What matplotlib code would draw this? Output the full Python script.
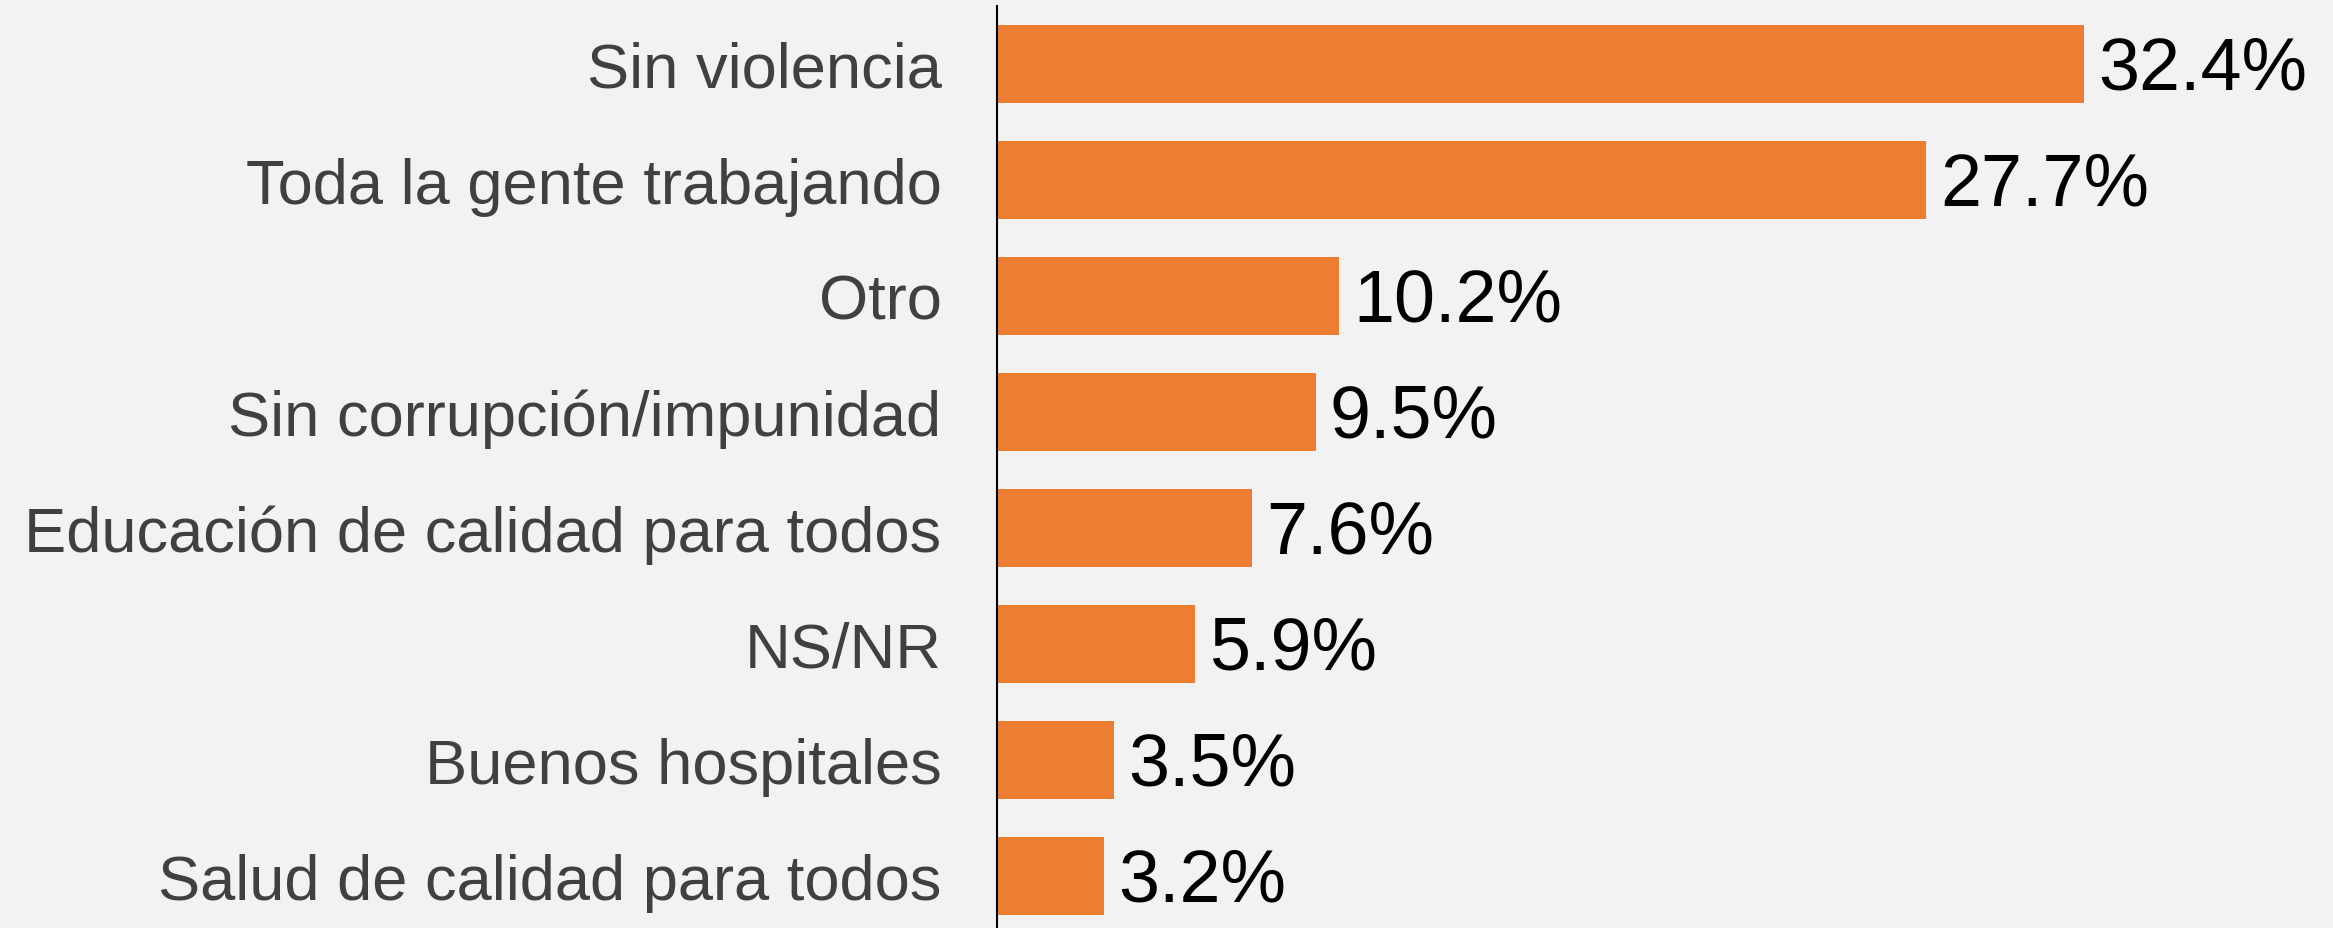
import numpy as np
from matplotlib import pyplot as plt

# =============================================================================
# DATA
# =============================================================================
categories = ['Sin violencia', 'Toda la gente trabajando', 'Otro',
              'Sin corrupción/impunidad', 'Educación de calidad para todos',
              'NS/NR', 'Buenos hospitales', 'Salud de calidad para todos']
values = [32.4, 27.7, 10.2, 9.5, 7.6, 5.9, 3.5, 3.2]

# =============================================================================
# PLOT
# =============================================================================
plt.rcParams['font.family'] = ['Liberation Sans', 'DejaVu Sans']
bg = '#f2f2f2'

fig = plt.figure(figsize=(23.33, 9.29), dpi=100, facecolor=bg)
W, H = 2333., 929.
x0, y_top, y_bot = 997., 7., 935.
ax = fig.add_axes([x0/W, 1 - y_bot/H, 1 - x0/W, (y_bot - y_top)/H])
ax.set_facecolor(bg)

y = np.arange(len(categories))
ax.barh(y, values, height=0.67, color='#ED7D31')
ax.set_ylim(len(categories) - 0.5, -0.5)
ax.set_xlim(0, (W - x0)/33.55)

for yi, v in zip(y, values):
    ax.annotate('{0:.1f}%'.format(v), (v, yi), xytext=(10, -3.5),
                textcoords='offset points', va='center', ha='left',
                fontsize=53, color='black')

ax.set_yticks(y)
ax.set_yticklabels(categories, fontsize=45.5, color='#404040')
ax.tick_params(axis='y', length=0, pad=40)
ax.set_xticks([])
for s in ['top', 'right', 'bottom']:
    ax.spines[s].set_visible(False)
ax.spines['left'].set_linewidth(1.5)
ax.spines['left'].set_color('black')

fig.savefig('out.png', dpi=100, facecolor=bg)
